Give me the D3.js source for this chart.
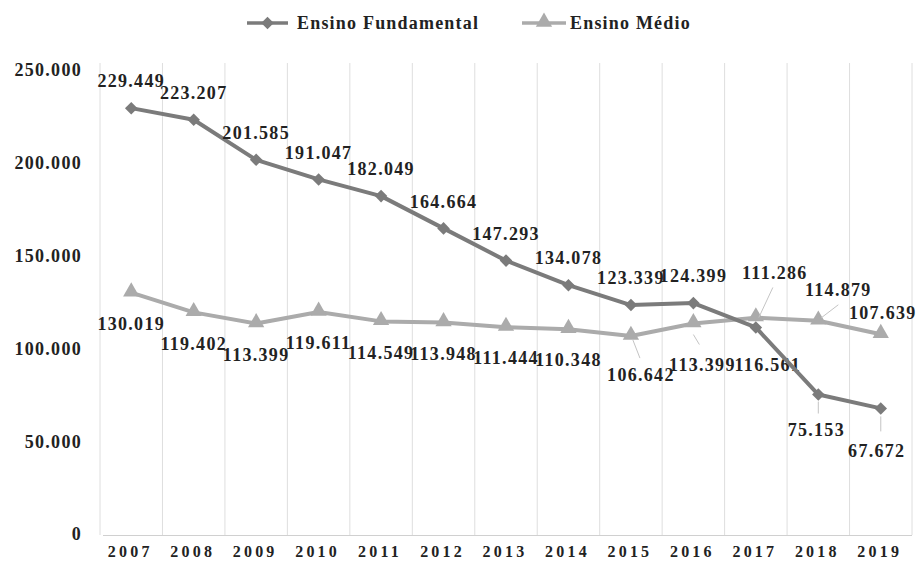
<!DOCTYPE html>
<html>
<head>
<meta charset="utf-8">
<script src="https://cdn.jsdelivr.net/npm/d3@7"></script>
<style>
  body { margin: 0; background: #fff; }
  svg text { font-family: "Liberation Serif", "Times New Roman", serif; font-weight: bold; fill: #222; }
</style>
</head>
<body>
<svg id="chart" width="919" height="561"></svg>
<script>
// data
var years = ["2007", "2008", "2009", "2010", "2011", "2012", "2013", "2014", "2015", "2016", "2017", "2018", "2019"];
var fundamental = [229449, 223207, 201585, 191047, 182049, 164664, 147293, 134078, 123339, 124399, 111286, 75153, 67672];
var medio = [130019, 119402, 113399, 119611, 114549, 113948, 111444, 110348, 106642, 113399, 116561, 114879, 107639];
var yTicks = [0, 50000, 100000, 150000, 200000, 250000];
var seriesNames = ["Ensino Fundamental", "Ensino Médio"];

// label placement: [dx, dy] of the label centre from its point, then optional leader [x1, y1, x2, y2] from the point
var fundNudge = {10: [19, -55, [3, -10, 17, -40]], 11: [-2, 35, [0, 7, 0, 19]], 12: [-4, 42, [0, 8, 0, 23]]};
var medioNudge = {8: [10, 39, [2, 4, 9, 22]], 9: [9, 41, [0, 11, 6, 21]], 10: [12, 47, null], 11: [20, -31, [3, -3, 20, -16]], 12: [2, -22, null]};

var colorFund = "#7b7b7b", colorMedio = "#ababab", gridColor = "#dedede";

var svg = d3.select("#chart");
var ptBR = d3.formatLocale({decimal: ",", thousands: ".", grouping: [3], currency: ["R$", ""]});
var fmt = ptBR.format(",");

var x = d3.scaleBand().domain(years).range([100, 912]).padding(0);
var y = d3.scaleLinear().domain([0, 250000]).range([534, 70]);
function cx(i) { return x(years[i]) + x.bandwidth() / 2; }

// vertical gridlines on band edges
var edges = years.map(function (d) { return x(d); }).concat([912]);
svg.append("g").selectAll("line").data(edges).enter().append("line")
    .attr("x1", function (d) { return d; }).attr("x2", function (d) { return d; })
    .attr("y1", 63).attr("y2", 535)
    .attr("stroke", gridColor).attr("stroke-width", 1);

svg.append("line").attr("x1", 103).attr("x2", 912).attr("y1", 535.5).attr("y2", 535.5)
    .attr("stroke", "#d0d0d0").attr("stroke-width", 1.2);

// y labels
svg.append("g").selectAll("text").data(yTicks).enter().append("text")
    .attr("x", 82).attr("y", function (d) { return y(d); })
    .attr("dy", "0.35em").attr("text-anchor", "end")
    .attr("font-size", 18).attr("letter-spacing", 1.3)
    .text(function (d) { return d === 0 ? "0" : fmt(d); });

// x labels
svg.append("g").selectAll("text").data(years).enter().append("text")
    .attr("x", function (d, i) { return cx(i) - 1; }).attr("y", 551)
    .attr("dy", "0.35em").attr("text-anchor", "middle")
    .attr("font-size", 16).attr("letter-spacing", 3.2)
    .text(function (d) { return d; });

var line = d3.line().x(function (d, i) { return cx(i); }).y(function (d) { return y(d); });

function diamond(g, px, py, c) {
    g.append("path").attr("d", d3.symbol().type(d3.symbolDiamond2).size(100)())
        .attr("transform", "translate(" + px + "," + py + ")").attr("fill", c);
}
function triangle(g, px, py, c) {
    g.append("path").attr("d", d3.symbol().type(d3.symbolTriangle).size(115)())
        .attr("transform", "translate(" + px + "," + (py - 1) + ")").attr("fill", c);
}

function drawSeries(values, color, marker, labelDefault, nudge) {
    var g = svg.append("g");
    g.append("path").datum(values).attr("d", line)
        .attr("fill", "none").attr("stroke", color).attr("stroke-width", 4).attr("stroke-linejoin", "round");
    values.forEach(function (v, i) { marker(g, cx(i), y(v), color); });
    values.forEach(function (v, i) {
        var n = nudge[i] || [0, labelDefault, null];
        var px = cx(i), py = y(v);
        if (n[2]) {
            g.append("line").attr("x1", px + n[2][0]).attr("y1", py + n[2][1])
                .attr("x2", px + n[2][2]).attr("y2", py + n[2][3])
                .attr("stroke", "#c4c4c4").attr("stroke-width", 1);
        }
        svg.append("text").attr("x", px + n[0]).attr("y", py + n[1]).attr("dy", "0.35em")
            .attr("text-anchor", "middle").attr("font-size", 18).attr("letter-spacing", 1.3)
            .text(fmt(v));
    });
}

drawSeries(medio, colorMedio, triangle, 31, medioNudge);
drawSeries(fundamental, colorFund, diamond, -27, fundNudge);

// legend
var legend = [
    {name: seriesNames[0], color: colorFund, marker: diamond, x1: 247, x2: 288, tx: 297},
    {name: seriesNames[1], color: colorMedio, marker: triangle, x1: 522, x2: 566, tx: 570}
];
legend.forEach(function (d) {
    var g = svg.append("g");
    g.append("line").attr("x1", d.x1).attr("x2", d.x2).attr("y1", 23).attr("y2", 23)
        .attr("stroke", d.color).attr("stroke-width", 3.5);
    d.marker(g, (d.x1 + d.x2) / 2, 23, d.color);
    svg.append("text").attr("x", d.tx).attr("y", 23).attr("dy", "0.35em")
        .attr("font-size", 18).attr("letter-spacing", 1.2).text(d.name);
});
</script>
</body>
</html>
